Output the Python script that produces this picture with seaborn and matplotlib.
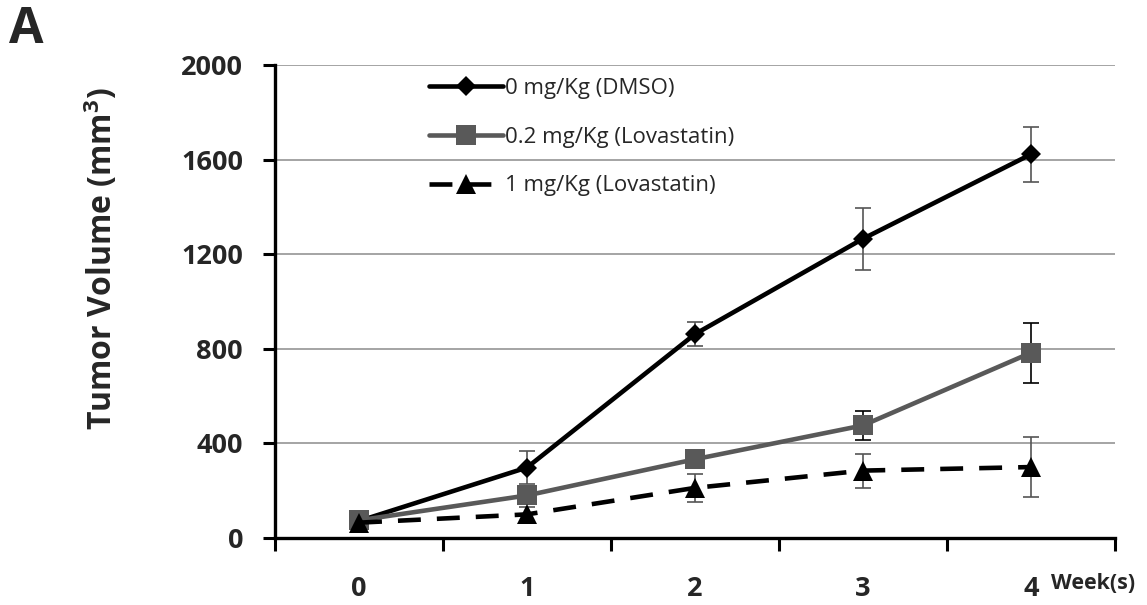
import matplotlib
matplotlib.use("Agg")
import matplotlib.pyplot as plt
from matplotlib.ticker import FixedLocator, NullFormatter
import numpy as np
import pandas as pd
import seaborn as sns

# weeks and mean tumour volume (mm3)
weeks = [0, 1, 2, 3, 4]
week_labels = ["0", "1", "2", "3", "4"]
groups = ["0 mg/Kg (DMSO)", "0.2 mg/Kg (Lovastatin)", "1 mg/Kg (Lovastatin)"]
dmso = [72, 298, 862, 1265, 1622]
dmso_err = [10, 68, 52, 130, 115]
lova_02 = [75, 180, 333, 476, 783]
lova_02_err = [10, 30, 35, 60, 127]
lova_1 = [65, 100, 212, 285, 300]
lova_1_err = [10, 30, 60, 72, 128]

sns.set_theme(style="white")
plt.rcParams["font.family"] = ["Open Sans", "DejaVu Sans"]

fig = plt.figure(figsize=(11.47, 6.05), dpi=100)
ax = fig.add_axes([0.2398, 0.1107, 0.7322, 0.782])

means = [dmso, lova_02, lova_1]
errs = [dmso_err, lova_02_err, lova_1_err]
colors = ["black", "#595959", "black"]
markers = ["D", "s", "^"]
msizes = [10, 15, 14]
dashes = [None, None, (5, 3.5)]
err_colors = ["#555555", "black", "#555555"]

for name, m, e, c, mk, ms, d, ec in zip(groups, means, errs, colors, markers,
                                         msizes, dashes, err_colors):
    df = pd.DataFrame({"week": weeks, "volume": m})
    ax.errorbar(df["week"], df["volume"], yerr=e, fmt="none", ecolor=ec,
                elinewidth=1.2, capsize=6, capthick=1.2, zorder=2)
    sns.lineplot(data=df, x="week", y="volume", ax=ax, color=c,
                 marker=mk, markersize=ms, markeredgewidth=0,
                 linewidth=3.3, label=name, zorder=3)
    if d is not None:
        ax.lines[-1].set_dashes(d)

ax.set_xlim(-0.5, 4.5)
ax.set_ylim(0, 2000)
ax.set_yticks([0, 400, 800, 1200, 1600, 2000])
ax.yaxis.grid(True, color="#8c8c8c", linewidth=1.1)
ax.xaxis.grid(False)
ax.set_axisbelow(True)

# category-style x axis: tick marks between categories, labels at centres
ax.xaxis.set_major_locator(FixedLocator([-0.5, 0.5, 1.5, 2.5, 3.5, 4.5]))
ax.xaxis.set_major_formatter(NullFormatter())
ax.xaxis.set_minor_locator(FixedLocator(weeks))
ax.set_xticklabels(week_labels, minor=True)
ax.tick_params(axis="x", which="major", direction="out", length=9, width=2.2,
               color="black", bottom=True)
ax.tick_params(axis="x", which="minor", length=0, pad=27, labelsize=19.5)
ax.tick_params(axis="y", direction="out", length=9, width=2.2, color="black",
               left=True, labelsize=19.5, pad=14)
for lab in ax.get_xticklabels(minor=True) + ax.get_yticklabels():
    lab.set_fontweight("bold")

for s in ["top", "right"]:
    ax.spines[s].set_visible(False)
for s in ["left", "bottom"]:
    ax.spines[s].set_color("black")
    ax.spines[s].set_linewidth(2.4)

ax.set_xlabel("")
ax.set_ylabel("Tumor Volume (mm$^\\mathregular{3}$)", fontsize=23,
              fontweight="bold")
ax.yaxis.set_label_coords(-0.185, 0.59)

fig.text(0.916, 0.026, "Week(s)", fontsize=15.5, fontweight="bold",
         ha="left", va="baseline")
fig.text(0.008, 0.929, "A", fontsize=36, fontweight="bold", ha="left",
         va="baseline")

ax.legend(loc="upper left", bbox_to_anchor=(0.16, 1.015), frameon=False,
          fontsize=16, handlelength=3.3, labelspacing=1.25,
          handletextpad=0.1)

fig.savefig("out.png", dpi=100)
